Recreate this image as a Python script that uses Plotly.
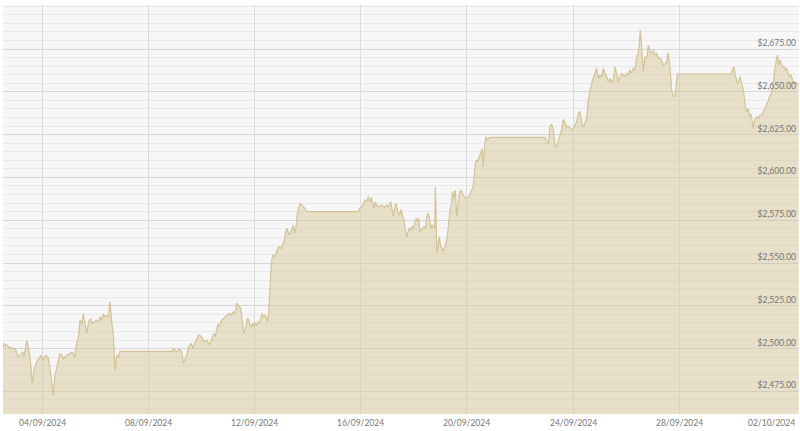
import pandas as pd
import plotly.graph_objects as go

# hours after 2024-09-02 12:00 and gold price in USD
hours = [
    0.5, 1.6, 4.1, 7.0, 11.6, 14.5, 16.1, 18.5, 19.7, 22.1, 23.6, 25.1, 27.2, 28.7, 30.5, 31.7,
    33.5, 34.8, 36.6, 37.8, 39.6, 41.7, 43.2, 44.7, 46.2, 47.7, 49.3, 50.7, 52.2, 53.8, 55.2, 56.8,
    58.3, 61.3, 62.8, 64.3, 65.8, 67.3, 68.8, 70.3, 71.9, 73.3, 74.8, 76.4, 77.3, 78.7, 80.0, 81.2,
    83.0, 85.4, 86.9, 88.4, 89.9, 91.4, 92.9, 94.5, 95.9, 97.4, 99.0, 100.4, 102.0, 103.5, 104.9, 106.5,
    154.0, 154.7, 156.2, 158.3, 160.1, 161.4, 162.5, 163.7, 165.0, 166.1, 167.3, 168.6, 169.8, 170.9,
    172.2, 173.4, 175.2, 176.4, 177.6, 179.4, 181.2, 183.0, 184.9, 186.7, 187.8, 189.0, 190.3, 191.5,
    192.6, 193.9, 195.1, 196.3, 197.5, 198.7, 199.9, 201.7, 203.5, 205.3, 207.1, 208.9, 210.7, 212.0,
    213.2, 214.3, 215.6, 216.8, 218.6, 220.4, 221.6, 222.8, 224.0, 225.2, 226.4, 227.6, 228.8, 230.1,
    231.2, 232.4, 233.7, 234.8, 236.0, 237.3, 238.5, 239.6, 240.9, 242.1, 243.3, 244.5, 246.3, 248.1,
    250.0, 251.8, 253.6, 255.4, 256.5, 257.7, 259.0, 260.2, 261.7, 263.1, 264.4, 265.6, 266.8, 268.0,
    269.2, 270.7, 272.8, 274.6, 275.5,
    321.9, 322.8, 325.0, 326.4, 328.0, 329.5, 330.9, 332.5, 333.7, 334.9, 336.1, 337.3, 338.5, 340.3,
    342.2, 344.0, 345.8, 347.6, 349.4, 351.2, 352.4, 353.6, 354.8, 356.0, 357.2, 358.4, 359.6, 360.8,
    362.0, 363.2, 364.4, 365.7, 366.8, 368.0, 369.3, 370.4, 371.6, 372.9, 374.1, 375.2, 376.5, 377.7,
    378.9, 380.1, 381.3, 382.5, 383.7, 384.9, 386.1, 387.4, 388.5, 389.7, 391.0, 391.5, 392.1, 392.8,
    394.0, 395.1, 396.4, 397.6, 398.7, 400.0, 401.2, 402.4, 403.6, 404.8, 406.0, 407.2, 408.4, 409.6,
    410.9, 412.0, 413.2, 414.5, 415.6, 416.8, 418.6, 420.4, 422.3, 424.1, 425.3, 426.5, 427.7, 428.9,
    430.1, 431.3, 432.6, 433.7, 434.9, 436.2, 437.3, 438.5, 439.8, 440.5,
    490.7, 492.2, 493.7, 495.2, 496.7, 498.2, 499.7, 501.3, 502.7, 504.2, 505.8, 507.2, 508.8, 510.3,
    511.7, 513.3, 514.8, 516.3, 517.8, 519.3, 520.8, 522.3, 523.9, 525.3, 526.8, 528.4, 529.8, 531.4,
    532.9, 534.3, 535.9, 537.4, 538.9, 540.4, 541.9, 543.4, 544.9, 546.5, 547.9, 549.4, 551.0, 552.4,
    554.0, 555.5, 557.0, 558.5, 560.0, 561.5, 563.0, 564.5, 566.0, 567.5, 569.1, 570.5, 572.0, 573.6,
    575.0, 575.9, 576.8, 578.1, 579.5, 581.1, 582.6, 584.1, 585.6, 587.1, 588.6, 590.1, 591.7, 593.1,
    594.6, 596.2, 597.6, 599.2, 600.7, 602.1, 603.7, 605.2, 606.7, 608.2, 609.7, 610.3,
    658.6, 660.4, 661.5, 662.7, 664.5, 665.8, 667.0, 668.1, 669.4, 670.6, 671.7, 673.0, 674.2, 675.4,
    676.6, 677.8, 679.0, 680.2, 681.4, 682.6, 683.9, 685.0, 686.2, 687.5, 688.7, 689.8, 691.1, 692.3,
    693.5, 694.7, 695.9, 697.1, 698.3, 699.5, 700.7, 702.0, 703.1, 704.3, 705.6, 706.7, 707.9, 709.2,
    710.4, 711.5, 712.8, 714.0, 715.1, 716.4, 718.2, 719.8,
]
price = [
    2500.0, 2502.9, 2501.9, 2500.4, 2500.0, 2495.1, 2496.1, 2498.0, 2495.1, 2504.8, 2500.9, 2495.1, 2479.6, 2487.3, 2491.2, 2493.2,
    2494.2, 2496.1, 2493.2, 2495.1, 2496.1, 2494.2, 2488.3, 2481.5, 2472.7, 2484.4, 2489.3, 2492.2, 2497.1, 2496.1, 2494.2, 2495.1,
    2496.1, 2497.1, 2498.0, 2497.1, 2495.1, 2503.9, 2505.8, 2516.5, 2514.6, 2520.4, 2515.5, 2508.8, 2512.6, 2516.5, 2517.5, 2514.6,
    2515.5, 2516.5, 2515.5, 2518.5, 2516.5, 2520.4, 2518.5, 2519.4, 2518.5, 2527.2, 2515.5, 2508.8, 2487.3, 2496.1, 2495.1, 2498.4,
    2498.4, 2500.2, 2498.8, 2498.2, 2499.6, 2499.2, 2497.3, 2491.4, 2493.4, 2495.3, 2497.3, 2501.1, 2502.1, 2503.1,
    2500.2, 2502.1, 2505.0, 2507.0, 2508.0, 2507.4, 2505.4, 2504.0, 2505.0, 2503.1, 2502.1, 2505.0, 2507.0, 2508.9,
    2507.0, 2510.9, 2514.4, 2512.8, 2515.7, 2516.7, 2517.7, 2518.6, 2519.6, 2520.6, 2519.6, 2521.6, 2520.6, 2526.5,
    2525.5, 2524.5, 2523.5, 2516.7, 2508.5, 2512.8, 2517.7, 2516.7, 2513.8, 2512.8, 2514.8, 2512.8, 2514.8, 2513.8,
    2515.7, 2514.4, 2517.7, 2520.6, 2518.3, 2519.6, 2518.6, 2515.7, 2520.6, 2534.2, 2549.8, 2554.7, 2553.7, 2556.6,
    2559.5, 2558.6, 2560.5, 2564.4, 2569.3, 2570.3, 2566.4, 2567.5, 2569.3, 2572.2, 2567.4, 2571.2, 2579.0, 2582.0,
    2584.9, 2583.9, 2582.5, 2580.6, 2580.0,
    2580.0, 2582.0, 2582.5, 2584.9, 2586.8, 2585.8, 2588.7, 2585.8, 2588.4, 2584.9, 2582.0, 2585.8, 2583.9, 2582.5,
    2583.9, 2583.3, 2582.5, 2583.9, 2582.9, 2585.8, 2582.0, 2577.1, 2582.0, 2584.9, 2581.0, 2578.0, 2579.0, 2581.4,
    2577.1, 2575.1, 2569.3, 2565.0, 2568.3, 2570.3, 2569.3, 2571.2, 2570.3, 2574.1, 2576.1, 2574.1, 2576.1, 2568.3,
    2569.3, 2570.3, 2571.2, 2570.3, 2577.1, 2579.0, 2577.1, 2570.3, 2572.2, 2571.2, 2570.3, 2594.6, 2582.9, 2555.7,
    2561.5, 2565.4, 2559.5, 2558.6, 2556.6, 2558.6, 2561.5, 2565.4, 2575.1, 2581.0, 2583.9, 2591.7, 2587.8, 2592.6,
    2577.1, 2582.9, 2590.7, 2592.6, 2591.1, 2589.7, 2587.8, 2588.4, 2589.1, 2592.6, 2593.6, 2598.5, 2608.2, 2610.2,
    2609.2, 2612.1, 2614.1, 2617.0, 2606.3, 2618.9, 2623.8, 2621.8, 2622.8, 2623.4,
    2623.4, 2621.8, 2619.5, 2629.6, 2631.2, 2627.7, 2618.9, 2617.9, 2621.8, 2624.8, 2627.7, 2633.9, 2631.6, 2629.3,
    2630.0, 2628.7, 2627.7, 2628.7, 2630.6, 2632.5, 2637.4, 2638.4, 2631.6, 2629.3, 2631.6, 2634.5, 2645.2, 2651.0,
    2655.0, 2657.9, 2660.8, 2663.7, 2657.9, 2659.8, 2658.8, 2663.7, 2660.8, 2658.8, 2655.9, 2657.9, 2655.3, 2656.9,
    2664.6, 2660.8, 2655.9, 2658.8, 2660.8, 2659.8, 2658.8, 2660.8, 2659.8, 2662.7, 2660.8, 2663.7, 2662.7, 2670.5,
    2672.5, 2678.3, 2686.1, 2676.3, 2661.7, 2670.5, 2669.6, 2677.3, 2673.4, 2672.5, 2674.4, 2671.5, 2672.5, 2669.6,
    2669.7, 2668.0, 2665.7, 2666.2, 2668.0, 2672.7, 2663.9, 2651.0, 2647.5, 2647.5, 2656.9, 2660.4,
    2660.4, 2662.7, 2664.6, 2659.8, 2655.0, 2655.9, 2658.8, 2655.9, 2653.0, 2648.1, 2641.3, 2638.4, 2640.4, 2635.5,
    2637.4, 2633.5, 2628.7, 2633.5, 2634.5, 2635.5, 2634.5, 2636.4, 2636.4, 2637.4, 2639.4, 2640.4, 2643.3, 2644.2,
    2647.1, 2648.1, 2650.6, 2655.0, 2662.7, 2667.6, 2671.5, 2665.7, 2668.6, 2666.6, 2664.6, 2664.6, 2662.7, 2663.7,
    2660.8, 2658.8, 2659.8, 2657.9, 2655.0, 2655.9, 2655.0, 2654.0,
]
x_ticks = ["2024-09-04", "2024-09-08", "2024-09-12", "2024-09-16",
           "2024-09-20", "2024-09-24", "2024-09-28", "2024-10-02"]
x_labels = ["04/09/2024", "08/09/2024", "12/09/2024", "16/09/2024",
            "20/09/2024", "24/09/2024", "28/09/2024", "02/10/2024"]
y_ticks = [2475, 2500, 2525, 2550, 2575, 2600, 2625, 2650, 2675]
y_labels = ["$2,475.00", "$2,500.00", "$2,525.00", "$2,550.00", "$2,575.00",
            "$2,600.00", "$2,625.00", "$2,650.00", "$2,675.00"]

start = pd.Timestamp("2024-09-02 12:00")
times = start + pd.to_timedelta(hours, unit="h")
grey = "#777777"

fig = go.Figure()
fig.add_trace(go.Scatter(
    x=times, y=price, mode="lines",
    line=dict(color="#d3c39a", width=1.2),
    fill="tozeroy", fillcolor="rgba(216,199,152,0.5)",
    hoverinfo="skip", showlegend=False,
))

# date labels as annotations so the last one can sit inside the page
for i, (d, lab) in enumerate(zip(x_ticks, x_labels)):
    last = i == len(x_ticks) - 1
    fig.add_annotation(
        x=d, y=0, xref="x", yref="paper", text=lab, showarrow=False,
        yanchor="top", yshift=-2, xanchor="right" if last else "center",
        xshift=12 if last else 0,
        font=dict(size=8.5, color=grey),
    )

fig.update_layout(
    width=800, height=431,
    margin=dict(l=3, r=1, t=5, b=17),
    paper_bgcolor="white",
    plot_bgcolor="#f6f6f6",
    font=dict(family="Lato, Open Sans, sans-serif", size=8.5, color=grey),
)
fig.update_xaxes(
    range=[start + pd.Timedelta(hours=0.7), start + pd.Timedelta(hours=720.3)],
    tickvals=pd.to_datetime(x_ticks), showticklabels=False,
    showgrid=True, gridcolor="#dcdcdc", gridwidth=1,
    zeroline=False, showline=False, ticks="",
)
fig.update_yaxes(
    range=[2461.8, 2700.7],
    side="right", ticklabelposition="inside top",
    tickvals=y_ticks, ticktext=y_labels,
    showgrid=True, gridcolor="#d6d6d6", gridwidth=1,
    minor=dict(dtick=5, tick0=2475, showgrid=True, gridcolor="#e9e9e9", gridwidth=1),
    zeroline=False, showline=False, ticks="",
    tickfont=dict(size=8.5, color=grey),
)

fig.write_html("out.html", config={"displayModeBar": False},
               post_script="document.body.style.margin='0';")
